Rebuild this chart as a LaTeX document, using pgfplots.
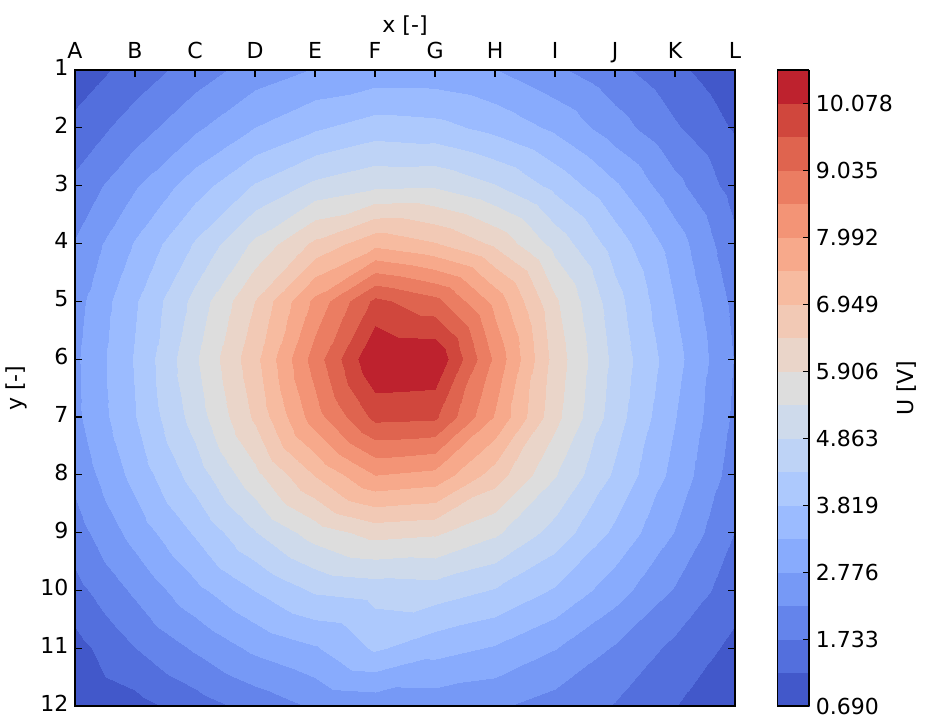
\documentclass[border=0pt]{standalone}
\usepackage{fontspec}
\setmainfont{DejaVu Sans}
\usepackage{pgfplots}
\usepackage{pgfplotstable}
\pgfplotsset{compat=1.18}

% measured potential, columns A..L -> x = 0..11, rows 1..12
\pgfplotstableread{
x y z
0 1 0.88
1 1 1.44
2 1 1.98
3 1 2.50
4 1 2.81
5 1 2.97
6 1 2.97
7 1 2.79
8 1 2.36
9 1 1.88
10 1 1.35
11 1 0.80
0 2 1.37
1 2 2.00
2 2 2.69
3 2 3.31
4 2 3.76
5 2 4.08
6 2 4.00
7 2 3.67
8 2 3.20
9 2 2.50
10 2 1.80
11 2 1.15
0 3 1.86
1 3 2.73
2 3 3.58
3 3 4.40
4 3 5.00
5 3 5.30
6 3 5.33
7 3 4.90
8 3 4.20
9 3 3.38
10 3 2.42
11 3 1.50
0 4 2.30
1 4 3.35
2 4 4.40
3 4 5.51
4 4 6.56
5 4 7.34
6 4 7.00
7 4 6.34
8 4 5.20
9 4 4.10
10 4 3.05
11 4 1.85
0 5 2.57
1 5 3.76
2 5 5.03
3 5 6.44
4 5 8.14
5 5 9.69
6 5 9.21
7 5 7.82
8 5 5.99
9 5 4.54
10 5 3.29
11 5 2.10
0 6 2.68
1 6 3.87
2 6 5.31
3 6 6.80
4 6 8.77
5 6 10.5996
6 6 10.55
7 6 8.40
8 6 6.21
9 6 4.70
10 6 3.49
11 6 2.22
0 7 2.65
1 7 3.80
2 7 5.09
3 7 6.53
4 7 8.29
5 7 9.71
6 7 9.65
7 7 7.94
8 7 6.07
9 7 4.58
10 7 3.32
11 7 2.15
0 8 2.40
1 8 3.48
2 8 4.58
3 8 5.76
4 8 6.98
5 8 8.00
6 8 7.83
7 8 6.70
8 8 5.42
9 8 4.25
10 8 3.12
11 8 2.00
0 9 2.02
1 9 2.98
2 9 3.88
3 9 4.83
4 9 5.62
5 9 6.09
6 9 5.98
7 9 5.47
8 9 4.65
9 9 3.70
10 9 2.75
11 9 1.72
0 10 1.55
1 10 2.35
2 10 3.15
3 10 3.82
4 10 4.40
5 10 4.53
6 10 4.60
7 10 4.29
8 10 3.75
9 10 3.00
10 10 2.20
11 10 1.42
0 11 1.02
1 11 1.73
2 11 2.33
3 11 2.90
4 11 3.25
5 11 3.90
6 11 3.50
7 11 3.25
8 11 2.80
9 11 2.20
10 11 1.60
11 11 1.08
0 12 0.690
1 12 1.02
2 12 1.48
3 12 1.92
4 12 2.33
5 12 2.42
6 12 2.45
7 12 2.33
8 12 2.03
9 12 1.70
10 12 1.23
11 12 0.72
}\potential

\begin{document}
\begin{tikzpicture}
\begin{axis}[
  name=main,
  scale only axis, width=347.5pt, height=334.9pt,
  xmin=0, xmax=11, ymin=1, ymax=12, y dir=reverse,
  xtick={0,...,11}, xticklabels={A,B,C,D,E,F,G,H,I,J,K,L},
  xticklabel pos=upper, xtick pos=upper,
  typeset ticklabels with strut, xticklabel shift=-1.5pt,
  ytick={1,...,12},
  xlabel={x [-]}, ylabel={y [-]}, xlabel shift=-4.6pt,
  tick align=inside, major tick length=3.5pt,
  tick style={black, line width=0.6pt},
  axis line style={line width=0.8pt},
  axis on top,
  tick label style={font=\fontsize{11.6}{14}\selectfont},
  label style={font=\fontsize{11.6}{14}\selectfont},
  /pgf/number format/assume math mode=true,
  colormap={cw}{rgb255=(66,88,202) rgb255=(83,111,221) rgb255=(100,132,235)
    rgb255=(118,153,246) rgb255=(136,171,253) rgb255=(155,187,255)
    rgb255=(173,201,253) rgb255=(190,211,246) rgb255=(206,218,235)
    rgb255=(221,221,221) rgb255=(234,213,201) rgb255=(242,201,181)
    rgb255=(247,187,160) rgb255=(247,169,139) rgb255=(243,148,118)
    rgb255=(235,125,98) rgb255=(223,100,79) rgb255=(208,71,61)
    rgb255=(190,34,46)},
  colormap access=piecewise constant,
  point meta min=0.690, point meta max=10.5996,
  colorbar,
  colorbar style={
    at={(parent axis.north east)}, anchor=north west, xshift=13.7pt,
    scale only axis, width=16.8pt, height=334.9pt,
    ytick={0.690,1.7331,2.7762,3.8193,4.8624,5.9056,6.9487,7.9918,9.0349,10.078},
    yticklabels={0.690,1.733,2.776,3.819,4.863,5.906,6.949,7.992,9.035,10.078},
    ytick pos=right, tick align=inside, major tick length=3.5pt,
    tick style={black, line width=0.6pt},
    axis line style={line width=0.8pt},
    tick label style={font=\fontsize{11.6}{14}\selectfont},
    ylabel={U [V]}, ylabel shift=-5pt,
    label style={font=\fontsize{11.6}{14}\selectfont},
  },
]
\addplot[surf, shader=interp, mesh/rows=12, point meta=\thisrow{z}]
  table[x=x, y=y] {\potential};
\end{axis}
\pgfresetboundingbox
\path[use as bounding box] ([shift={(-39.5pt,-5.8pt)}]main.south west)
  rectangle ([shift={(100pt,36.9pt)}]main.north east);
\end{tikzpicture}
\end{document}
